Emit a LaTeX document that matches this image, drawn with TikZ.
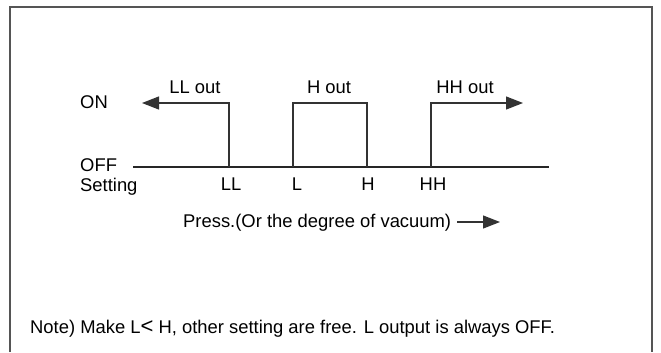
\documentclass[tikz,border=0pt]{standalone}
\usepackage{fontspec}
\setmainfont{Liberation Sans}
\usetikzlibrary{arrows.meta}
\definecolor{framegray}{HTML}{555555}
\definecolor{linegray}{HTML}{333333}
\tikzset{
  txtlabel/.style={anchor=base,inner sep=0pt,font=\fontsize{18.4bp}{21bp}\selectfont},
  axisline/.style={line width=2.2bp,black!85},
  outline/.style={line width=1.2bp,linegray},
  outarrow/.style={-{Triangle[length=17bp,width=13bp]},line width=1.2bp,linegray}
}

\begin{document}
\begin{tikzpicture}[x=1bp,y=-1bp]
  \useasboundingbox (0,0) rectangle (661,352);
  \draw[line width=2bp,framegray] (10,352) -- (10,7) -- (652,7) -- (652,352);

  % levels and axis
  \coordinate (onlevel) at (0,103);
  \coordinate (axstart) at (133,167);
  \coordinate (axend) at (549,167);
  \draw[axisline] (axstart) -- (axend);

  % set points
  \coordinate (ll) at (229,167);
  \coordinate (l) at (293,167);
  \coordinate (h) at (367,167);
  \coordinate (hh) at (431,167);
  \coordinate (llend) at (142,103);
  \coordinate (hhend) at (523,103);

  % outputs
  \draw[outarrow] (ll) -- (ll |- onlevel) -- (llend);
  \draw[outline] (l) -- (l |- onlevel) -- (h |- onlevel) -- (h);
  \draw[outarrow] (hh) -- (hh |- onlevel) -- (hhend);

  % left labels
  \node[txtlabel,anchor=base west] (onlbl) at (80,108) {ON};
  \node[txtlabel,anchor=base west] (offlbl) at (80,171) {OFF};
  \node[txtlabel,anchor=base west] (setlbl) at (80,191) {Setting};

  % output labels
  \node[txtlabel] (llout) at (195,93) {LL out};
  \node[txtlabel] (hout) at (329,93) {H out};
  \node[txtlabel] (hhout) at (465,93) {HH out};

  % setting labels
  \node[txtlabel] (lllbl) at (231,190) {LL};
  \node[txtlabel] (llbl) at (297,190) {L};
  \node[txtlabel] (hlbl) at (368,190) {H};
  \node[txtlabel] (hhlbl) at (433,190) {HH};

  % pressure axis
  \node[txtlabel,anchor=base west] (press) at (183,227) {Press.(Or the degree of vacuum)};
  \coordinate (pressend) at (500,222);
  \draw[outarrow,shorten <=6bp] (press.east |- pressend) -- (pressend);

  % note
  \node[txtlabel,anchor=base west] (note) at (30,333) {Note) Make L{\fontsize{22bp}{22bp}\selectfont<}~H, other setting are free. L output is always OFF.};
\end{tikzpicture}
\end{document}
